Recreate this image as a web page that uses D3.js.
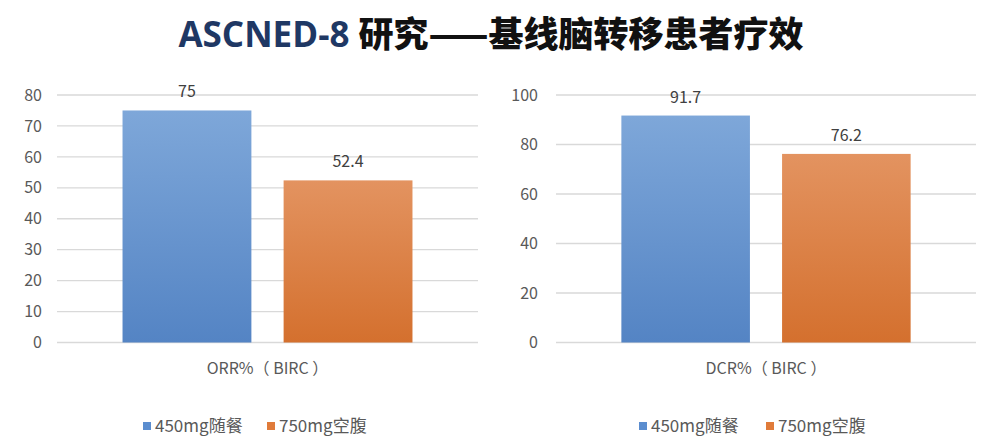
<!DOCTYPE html>
<html><head><meta charset="utf-8">
<script src="https://cdn.jsdelivr.net/npm/d3@7/dist/d3.min.js"></script>
<style>body{margin:0;background:#fff}svg{display:block}</style>
</head><body>
<svg id="c" width="994" height="446"></svg>
<script>
const titleA = "ASCNED-8 ";
const titleB = "研究——基线脑转移患者疗效";
const series = ["450mg随餐", "750mg空腹"];
const colorsTop = ["#7ea7d9", "#e39360"];
const colorsBot = ["#5484c4", "#d4702e"];
const legendColors = ["#5b8dcf", "#e07b3a"];
const chart1Category = "ORR%（ BIRC ）";
const chart1Values = [75, 52.4];
const chart1Ticks = [0, 10, 20, 30, 40, 50, 60, 70, 80];
const chart2Category = "DCR%（ BIRC ）";
const chart2Values = [91.7, 76.2];
const chart2Ticks = [0, 20, 40, 60, 80, 100];

const svg = d3.select("#c");
const font = "'Noto Sans CJK SC', 'Open Sans', sans-serif";
const defs = svg.append("defs");
series.forEach((s, i) => {
  const g = defs.append("linearGradient").attr("id", "g" + i).attr("x1", 0).attr("y1", 0).attr("x2", 0).attr("y2", 1);
  g.append("stop").attr("offset", "0%").attr("stop-color", colorsTop[i]);
  g.append("stop").attr("offset", "100%").attr("stop-color", colorsBot[i]);
});

const title = svg.append("text").attr("x", 491).attr("y", 47).attr("text-anchor", "middle")
  .style("font-weight", "bold").style("font-size", "35px");
title.append("tspan").text(titleA).attr("fill", "#1f3864").style("font-family", "'Open Sans', sans-serif");
title.append("tspan").text(titleB).attr("fill", "#111").style("font-family", "'Noto Sans CJK SC', sans-serif").style("font-weight", "900");

function drawChart(cfg) {
  const g = svg.append("g");
  const y = d3.scaleLinear().domain([0, d3.max(cfg.ticks)]).range([342.5, 95]);
  const x0 = d3.scaleBand().domain([cfg.category]).range([cfg.x0, cfg.x1]).paddingInner(0).paddingOuter(0.226);
  const x1 = d3.scaleBand().domain(series).range([x0(cfg.category), x0(cfg.category) + x0.bandwidth()]).paddingInner(0.2);
  g.selectAll(".grid").data(cfg.ticks).join("line")
    .attr("x1", cfg.x0).attr("x2", cfg.x1)
    .attr("y1", d => y(d)).attr("y2", d => y(d))
    .attr("stroke", "#d9d9d9").attr("stroke-width", 1.3);
  const ax = g.append("g").attr("transform", `translate(${cfg.x0},0)`)
    .call(d3.axisLeft(y).tickValues(cfg.ticks).tickSize(0).tickPadding(cfg.pad));
  ax.select(".domain").remove();
  ax.selectAll("text").attr("fill", "#595959").style("font-size", "16px").style("font-family", font);
  g.selectAll(".bar").data(cfg.values).join("rect")
    .attr("x", (d, i) => x1(series[i]))
    .attr("width", x1.bandwidth())
    .attr("y", d => y(d))
    .attr("height", d => y(0) - y(d))
    .attr("fill", (d, i) => `url(#g${i})`);
  g.selectAll(".val").data(cfg.values).join("text")
    .attr("x", (d, i) => x1(series[i]) + x1.bandwidth() / 2)
    .attr("y", d => y(d) - 13)
    .attr("text-anchor", "middle").attr("fill", "#404040")
    .style("font-size", "16px").style("font-family", font)
    .text(d => d);
  g.append("text").attr("x", x0(cfg.category) + x0.bandwidth() / 2).attr("y", 374)
    .attr("text-anchor", "middle").attr("fill", "#595959")
    .style("font-size", "16px").style("font-family", font).text(cfg.category);
  const lg = g.append("g").attr("transform", `translate(${cfg.legendX},0)`);
  series.forEach((s, i) => {
    const off = i * cfg.legendStep;
    lg.append("rect").attr("x", off).attr("y", 422).attr("width", 8).attr("height", 8).attr("fill", legendColors[i]);
    lg.append("text").attr("x", off + 12).attr("y", 432).attr("fill", "#595959")
      .style("font-size", "17px").style("font-family", font).text(s);
  });
}

drawChart({ x0: 57, x1: 478, ticks: chart1Ticks, values: chart1Values, category: chart1Category, pad: 15, legendX: 143, legendStep: 124 });
drawChart({ x0: 556, x1: 976, ticks: chart2Ticks, values: chart2Values, category: chart2Category, pad: 18, legendX: 639, legendStep: 127 });
</script>
</body></html>
